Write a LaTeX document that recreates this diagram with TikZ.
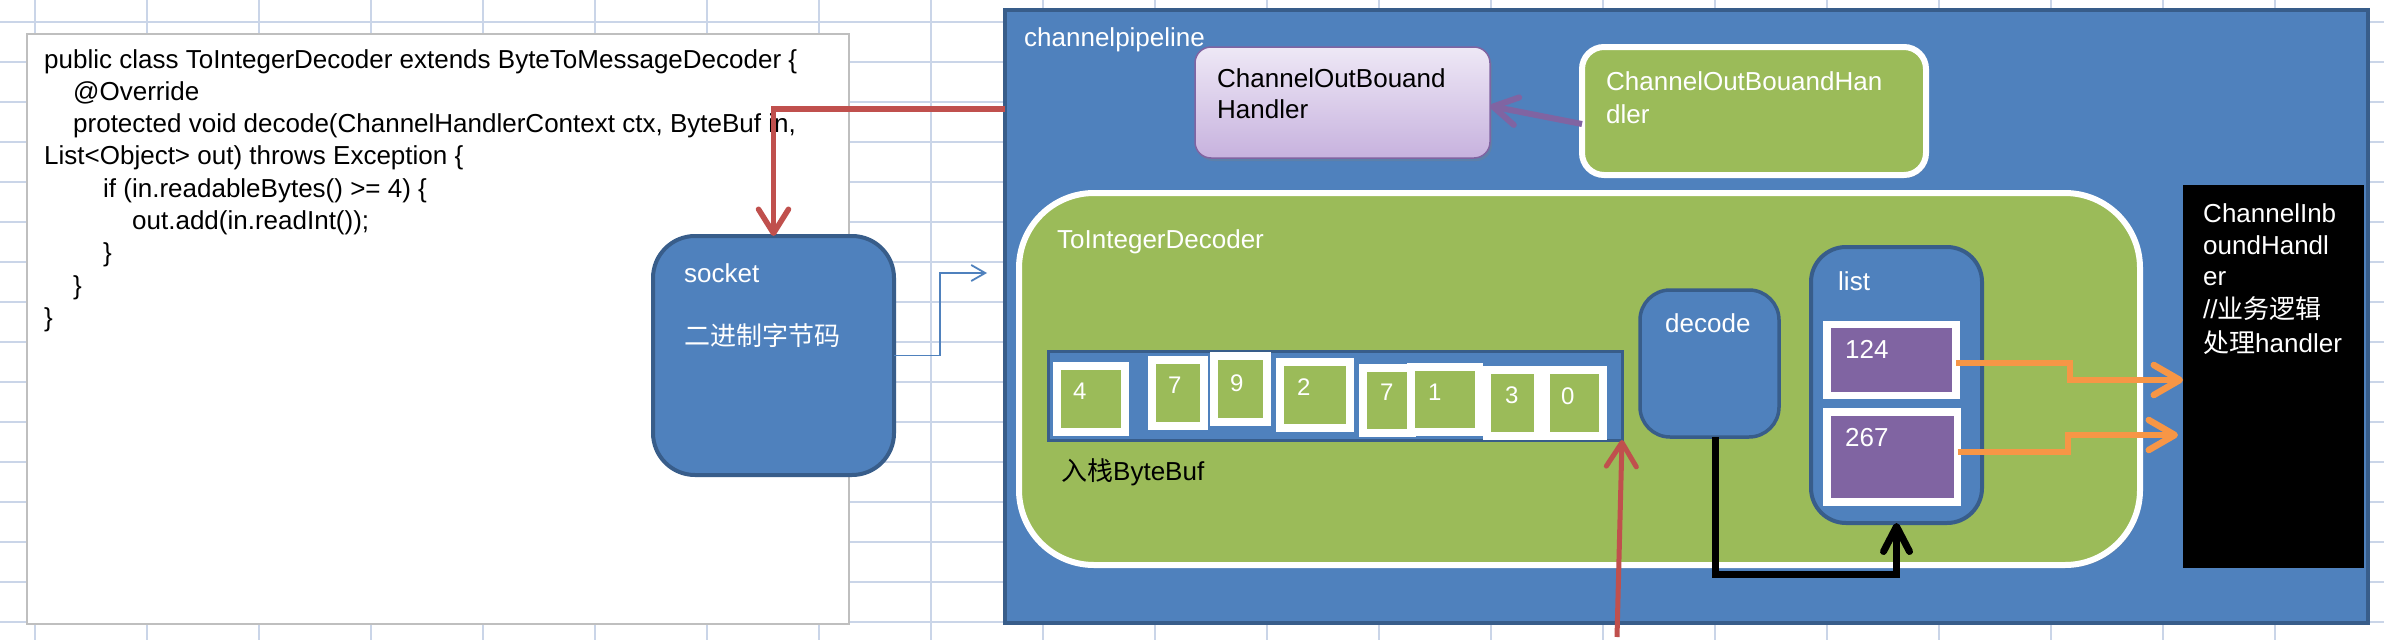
\documentclass[tikz,border=0pt]{standalone}
\usepackage{fontspec}
\setmainfont{Liberation Sans}
\newfontfamily\cjk{Noto Sans CJK SC}
\usetikzlibrary{arrows.meta,shadows}
\definecolor{blueF}{HTML}{4F81BD}
\definecolor{blueE}{HTML}{385D8A}
\definecolor{greenF}{HTML}{9BBB59}
\definecolor{purpleF}{HTML}{8064A2}
\definecolor{lavT}{HTML}{EEE8F6}
\definecolor{lavB}{HTML}{C7B2DE}
\definecolor{redA}{HTML}{C0504D}
\definecolor{orangeA}{HTML}{F79646}
\definecolor{gridC}{HTML}{CAD5E8}
\definecolor{codeE}{HTML}{BFBFBF}
\tikzset{
  box/.style={anchor=north west, inner sep=0pt, outer sep=0pt},
  shadowed/.style={drop shadow={opacity=0.3, shadow xshift=2pt, shadow yshift=-3pt}},
  bluebox/.style={box, fill=blueF, draw=blueE},
  greenbox/.style={box, fill=greenF, draw=white},
  cellbox/.style={box, fill=greenF, draw=white, line width=8pt, shadowed},
  itembox/.style={box, fill=purpleF, draw=white, line width=7.5pt, shadowed},
  lbl/.style={anchor=base west, inner sep=0pt, font=\fontsize{26}{31}\selectfont},
  wlbl/.style={lbl, text=white},
  dgt/.style={anchor=base west, inner sep=0pt, font=\fontsize{24}{28}\selectfont, text=white},
  gridline/.style={draw=gridC, line width=1.6pt},
  redarrow/.style={draw=redA, line width=5.5pt, -{Straight Barb[round,length=24pt,width=30pt]}},
  orangearrow/.style={draw=orangeA, line width=6.5pt, -{Straight Barb[round,length=26pt,width=30pt]}},
  blackarrow/.style={draw=black, line width=7pt, -{Straight Barb[round,length=25pt,width=26pt]}},
  purplearrow/.style={draw=purpleF, line width=6pt, -{Straight Barb[round,length=24pt,width=28pt]}},
  thinarrow/.style={draw=blueF, line width=1.8pt, -{Straight Barb[length=14pt,width=16pt]}},
}
\begin{document}
\begin{tikzpicture}[x=1pt,y=-1pt]
\useasboundingbox (0,0) rectangle (2384,640);
\fill[white] (0,0) rectangle (2384,640);
% spreadsheet grid
\foreach \gx in {35,147,...,2275} \draw[gridline] (\gx,0) -- (\gx,640);
\foreach \gy in {22,62,...,622} \draw[gridline] (0,\gy) -- (2384,\gy);

% code box
\node[box, fill=white, draw=codeE, line width=2pt, minimum width=822pt, minimum height=590pt] (codebox) at (27,34) {};
\node[lbl] (c1) at (44,68) {public class ToIntegerDecoder extends ByteToMessageDecoder \{};
\node[lbl] (c2) at (73,100) {@Override};
\node[lbl] (c3) at (73,132.5) {protected void decode(ChannelHandlerContext ctx, ByteBuf in,};
\node[lbl] (c4) at (44,164.5) {List<Object> out) throws Exception \{};
\node[lbl] (c5) at (103,197) {if (in.readableBytes() >= 4) \{};
\node[lbl] (c6) at (132,229) {out.add(in.readInt());};
\node[lbl] (c7) at (103,261.5) {\}};
\node[lbl] (c8) at (73,294) {\}};
\node[lbl] (c9) at (44,326) {\}};

% socket
\node[bluebox, line width=4pt, rounded corners=42pt, minimum width=241pt, minimum height=239pt] (socket) at (653,236) {};
\node[wlbl] (socklbl) at (684,282) {socket};
\node[wlbl] (sockcn) at (684,345) {\cjk 二进制字节码};
\coordinate (bluetip) at (987,273);
\draw[thinarrow] (socket.east) -| (940,273) -- (bluetip);

% pipeline
\node[bluebox, line width=4pt, minimum width=1363pt, minimum height=613pt] (pipe) at (1005,10) {};
\node[wlbl] (pipelbl) at (1024,46) {channelpipeline};

\coordinate (r1start) at (1005,109);
\draw[redarrow] (r1start) -| (socket.north);

% outbound handlers
\node[box, draw=purpleF, line width=1.5pt, top color=lavT, bottom color=lavB, rounded corners=16pt, minimum width=295pt, minimum height=111pt, shadowed] (outp) at (1195,47) {};
\node[lbl] (outp1) at (1217,87) {ChannelOutBouand};
\node[lbl] (outp2) at (1217,118) {Handler};
\node[greenbox, line width=6pt, rounded corners=22pt, minimum width=344pt, minimum height=128pt, shadowed] (outh) at (1582,47) {};
\node[wlbl] (outh1) at (1606,90) {ChannelOutBouandHan};
\node[wlbl] (outh2) at (1606,123) {dler};
\draw[purplearrow] ([yshift=-13pt]outh.west) -- ([yshift=-3.5pt]outp.east);

% ToIntegerDecoder
\node[greenbox, line width=6pt, rounded corners=75pt, minimum width=1121pt, minimum height=372pt, shadowed] (dec) at (1019,193) {};
\node[wlbl] (declbl) at (1057,248) {ToIntegerDecoder};

% ByteBuf
\node[bluebox, line width=3pt, minimum width=574pt, minimum height=89pt] (buf) at (1048,351) {};
\node[lbl] (buflbl) at (1061,480) {{\cjk 入栈}ByteBuf};
\node[cellbox, minimum width=68pt, minimum height=65.5pt] (b1) at (1057,366) {};
\node[cellbox, minimum width=51.5pt, minimum height=66pt] (b2) at (1152,359.5) {};
\node[cellbox, minimum width=53pt, minimum height=66pt] (b3) at (1214,356) {};
\node[cellbox, minimum width=70pt, minimum height=65.5pt] (b4) at (1280,362) {};
\node[cellbox, minimum width=49pt, minimum height=65pt] (b5) at (1362.5,368) {};
\node[cellbox, minimum width=68.5pt, minimum height=65pt] (b6) at (1410.5,366.5) {};
\node[cellbox, minimum width=51pt, minimum height=66pt] (b7) at (1487,369.5) {};
\node[cellbox, minimum width=57pt, minimum height=65.5pt] (b8) at (1546,370) {};
\node[dgt] (d1) at (1073,399) {4};
\node[dgt] (d2) at (1168,393) {7};
\node[dgt] (d3) at (1230,391) {9};
\node[dgt] (d4) at (1297,395) {2};
\node[dgt] (d5) at (1380,400) {7};
\node[dgt] (d6) at (1428,400) {1};
\node[dgt] (d7) at (1505,403) {3};
\node[dgt] (d8) at (1561,404) {0};

% decode
\node[bluebox, line width=3.5pt, rounded corners=30pt, minimum width=139pt, minimum height=147pt] (decode) at (1640,290) {};
\node[wlbl] (decodelbl) at (1665,332) {decode};

% list
\node[bluebox, line width=4pt, rounded corners=35pt, minimum width=171pt, minimum height=276pt] (list) at (1811,247) {};
\node[wlbl] (listlbl) at (1838,290) {list};
\node[itembox, minimum width=129pt, minimum height=71pt] (i1) at (1827,324.5) {};
\node[itembox, minimum width=130.5pt, minimum height=90pt] (i2) at (1827,412) {};
\node[wlbl] (i1lbl) at (1845,358) {124};
\node[wlbl] (i2lbl) at (1845,446) {267};

% business handler
\node[box, fill=black, minimum width=181pt, minimum height=383pt] (biz) at (2183,185) {};
\node[wlbl] (z1) at (2203,222) {ChannelInb};
\node[wlbl] (z2) at (2203,254) {oundHandl};
\node[wlbl] (z3) at (2203,285) {er};
\node[wlbl] (z4) at (2203,318) {//{\cjk 业务逻辑}};
\node[wlbl] (z5) at (2203,352) {{\cjk 处理}handler};

% connectors
\draw[blackarrow] ([xshift=6pt]decode.south) |- ([yshift=-51pt]list.south) -- (list.south);
\draw[orangearrow] ([yshift=-3pt]i1.east) -| (2070,371) |- ([yshift=-3.5pt]biz.west);
\draw[orangearrow] ([yshift=5pt]i2.east) -| (2068,444) |- ([xshift=-5pt,yshift=-58.5pt]biz.west);
\coordinate (r2start) at (1617,637);
\draw[redarrow, line width=5pt] (r2start) -- (buf.south east);
\end{tikzpicture}
\end{document}
